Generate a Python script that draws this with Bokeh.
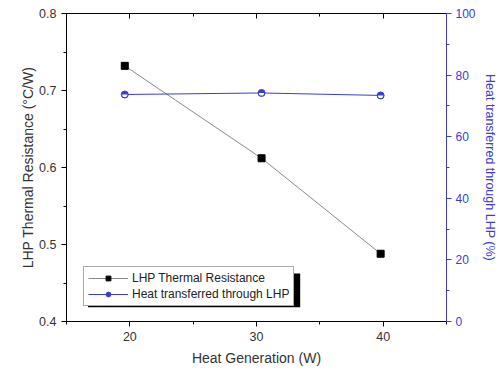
from bokeh.plotting import figure
from bokeh.models import (LinearAxis, Range1d, SingleIntervalTicker, Legend, LegendItem,
                          BoxAnnotation, ColumnDataSource, CustomJSTickFormatter)
from bokeh.embed import file_html
from bokeh.resources import INLINE

# Data
heat_w = [19.6, 30.4, 39.8]
resistance = [0.732, 0.612, 0.488]
heat_pct = [73.7, 74.2, 73.4]

series_names = ["LHP Thermal Resistance", "Heat transferred through LHP"]

BLUE = "#3b3bd6"
FONT = "Liberation Sans"

p = figure(width=499, height=372, output_backend="svg", toolbar_location=None,
           x_range=Range1d(15, 45), y_range=Range1d(0.4, 0.8),
           min_border_left=66, min_border_right=52, min_border_top=13, min_border_bottom=51)
p.extra_y_ranges = {"pct": Range1d(0, 100)}
p.grid.visible = False
p.outline_line_color = "black"
p.background_fill_color = "white"
p.border_fill_color = "white"

# bottom axis
xa = p.xaxis[0]
xa.ticker = SingleIntervalTicker(interval=10, num_minor_ticks=2)
xa.axis_label = "Heat Generation (W)"
# left axis
ya = p.yaxis[0]
ya.ticker = SingleIntervalTicker(interval=0.1, num_minor_ticks=2)
ya.axis_label = "LHP Thermal Resistance (\u00b0C/W)"

for ax in (xa, ya):
    ax.axis_label_text_font = FONT
    ax.axis_label_text_font_style = "normal"
    ax.axis_label_text_font_size = "14px"
    ax.axis_label_text_color = "#333333"
    ax.major_label_text_font = FONT
    ax.major_label_text_font_size = "12.5px"
    ax.major_label_text_color = "#333333"
    ax.major_tick_in = 0
    ax.major_tick_out = 5
    ax.minor_tick_in = 0
    ax.minor_tick_out = 3
    ax.axis_line_color = "black"
    ax.major_tick_line_color = "black"
    ax.minor_tick_line_color = "black"
ya.axis_label_standoff = 0
xa.axis_label_standoff = 6

# top axis: inward ticks, no labels
top = LinearAxis(ticker=SingleIntervalTicker(interval=10, num_minor_ticks=2),
                 formatter=CustomJSTickFormatter(code="return ''"),
                 major_tick_in=5, major_tick_out=0, minor_tick_in=3, minor_tick_out=0,
                 major_label_standoff=0)
p.add_layout(top, "above")

# right axis
ra = LinearAxis(y_range_name="pct", ticker=SingleIntervalTicker(interval=20, num_minor_ticks=2),
                axis_label="Heat transferred through LHP (%)")
ra.axis_label_text_font = FONT
ra.axis_label_text_font_style = "normal"
ra.axis_label_text_font_size = "12.5px"
ra.axis_label_text_color = BLUE
ra.axis_label_standoff = 4
ra.major_label_standoff = 4
ra.major_label_text_font = FONT
ra.major_label_text_font_size = "12px"
ra.major_label_text_color = BLUE
ra.axis_line_color = BLUE
ra.major_tick_line_color = BLUE
ra.minor_tick_line_color = BLUE
ra.major_tick_in = 0
ra.major_tick_out = 5
ra.minor_tick_in = 0
ra.minor_tick_out = 3
p.add_layout(ra, "right")

# legend shadow (decoration)
shadow = BoxAnnotation(left=16.7, right=33.45, top=0.4625, bottom=0.4185,
                       fill_color="black", fill_alpha=1.0, line_color=None)
p.add_layout(shadow)

# series 1
l1 = p.line(heat_w, resistance, line_color="#8a8a8a", line_width=1)
s1 = p.scatter(heat_w, resistance, marker="square", size=7, fill_color="black", line_color="black")

# series 2 (half-filled circles: blue circle with white lower half)
src2 = ColumnDataSource(dict(x=heat_w, y=heat_pct))
l2 = p.line("x", "y", source=src2, y_range_name="pct", line_color=BLUE, line_width=1)
c2 = p.scatter("x", "y", source=src2, y_range_name="pct", marker="circle", size=7,
               fill_color=BLUE, line_color=BLUE, line_width=1)
w2 = p.wedge("x", "y", source=src2, y_range_name="pct", radius=2.6, radius_units="screen",
             start_angle=3.14159, end_angle=6.28318, fill_color="white", line_color=None)

legend = Legend(items=[LegendItem(label=series_names[0], renderers=[l1, s1]),
                       LegendItem(label=series_names[1], renderers=[l2, c2])],
                location=(17, 15), orientation="vertical",
                label_text_font=FONT, label_text_font_size="12px", label_text_color="#222222",
                glyph_width=40, glyph_height=12, label_height=12, spacing=2,
                padding=4, margin=0, border_line_color="#555555", border_line_width=1,
                background_fill_color="white", background_fill_alpha=1.0,
                label_standoff=4)
p.add_layout(legend, "center")

open("out.html", "w").write(file_html(p, INLINE))
